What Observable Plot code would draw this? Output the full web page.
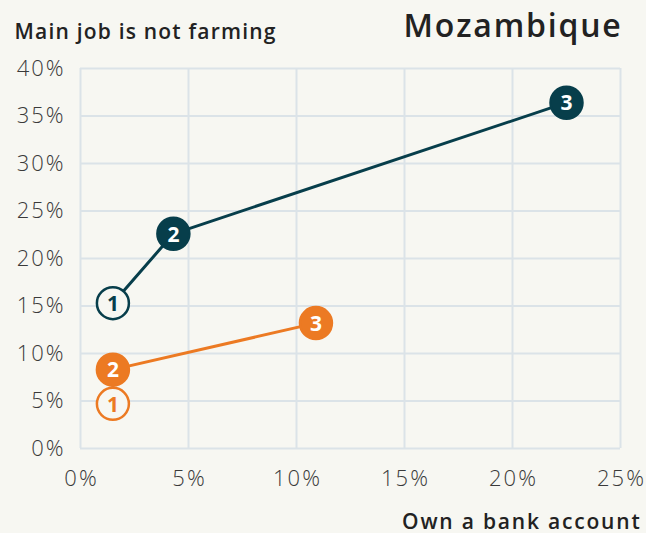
<!DOCTYPE html>
<html><head><meta charset="utf-8">
<script src="https://cdn.jsdelivr.net/npm/d3@7"></script>
<script src="https://cdn.jsdelivr.net/npm/@observablehq/plot@0.6"></script>
<style>
html,body{margin:0;padding:0;background:#f7f7f2;}
</style></head><body><div id="chart"></div>
<script>
const series = ["Top", "Bottom"];
const rounds = ["1", "2", "3"];
const bankTop = [1.5, 4.3, 22.5];
const jobTop = [15.3, 22.6, 36.4];
const bankBottom = [1.5, 1.5, 10.9];
const jobBottom = [4.7, 8.3, 13.2];
const xTicks = [0, 5, 10, 15, 20, 25];
const yTicks = [0, 5, 10, 15, 20, 25, 30, 35, 40];
const colors = {Top: "#073e4b", Bottom: "#ec7a23"};

const data = [];
rounds.forEach((r, i) => data.push({series: "Top", round: r, x: bankTop[i], y: jobTop[i]}));
rounds.forEach((r, i) => data.push({series: "Bottom", round: r, x: bankBottom[i], y: jobBottom[i]}));

const bg = "#f7f7f2";
const font = "'Open Sans', Lato, sans-serif";

const chart = Plot.plot({
  width: 646, height: 533,
  marginLeft: 80, marginRight: 26, marginTop: 68, marginBottom: 85,
  style: {background: bg, fontFamily: font},
  x: {domain: [0, 25], ticks: xTicks, tickFormat: d => d + "%", label: null},
  y: {domain: [0, 40], ticks: yTicks, tickFormat: d => d + "%", label: null},
  marks: [
    Plot.gridX(xTicks, {stroke: "#dbe3e8", strokeOpacity: 1, strokeWidth: 2}),
    Plot.gridY(yTicks, {stroke: "#dbe3e8", strokeOpacity: 1, strokeWidth: 2}),
    Plot.axisX({ticks: xTicks, tickFormat: d => d + "%", tickSize: 0, tickPadding: 22, fontSize: 22, fontWeight: 300, fill: "#3a3a3a", label: null}),
    Plot.axisY({ticks: yTicks, tickFormat: d => d + "%", tickSize: 0, tickPadding: 15, fontSize: 22, fontWeight: 300, fill: "#3a3a3a", label: null}),
    Plot.line(data, {x: "x", y: "y", z: "series", stroke: d => colors[d.series], strokeWidth: 3}),
    Plot.dot(data, {x: "x", y: "y", r: 16, fill: d => d.round === "1" ? bg : colors[d.series], stroke: d => colors[d.series], strokeWidth: 2.5}),
    Plot.text(data, {x: "x", y: "y", text: "round", fill: d => d.round === "1" ? colors[d.series] : "#ffffff", fontSize: 21, fontWeight: "bold", dy: 1}),
    Plot.text(["Main job is not farming"], {frameAnchor: "top-left", dx: -66, dy: -44, fontSize: 21, fontWeight: 600, fill: "#222", textAnchor: "start"}),
    Plot.text(["Mozambique"], {frameAnchor: "top-right", dx: 2, dy: -54, fontSize: 32, fontWeight: 600, fill: "#222", textAnchor: "end"}),
    Plot.text(["Own a bank account"], {frameAnchor: "bottom-right", dx: 21, dy: 80, fontSize: 21, fontWeight: 600, fill: "#222", textAnchor: "end"})
  ]
});
const svg = d3.select(chart);
svg.selectAll('g[aria-label="y-axis tick label"] text').attr("letter-spacing", 2);
svg.selectAll('g[aria-label="x-axis tick label"] text').attr("letter-spacing", 2).attr("dx", 1);
const tg = svg.selectAll('g[aria-label="text"]').nodes();
d3.select(tg[1]).selectAll("text").attr("letter-spacing", 1.2);
d3.select(tg[2]).selectAll("text").attr("letter-spacing", 1.8);
d3.select(tg[3]).selectAll("text").attr("letter-spacing", 1.8);
document.getElementById("chart").appendChild(chart);
</script></body></html>
